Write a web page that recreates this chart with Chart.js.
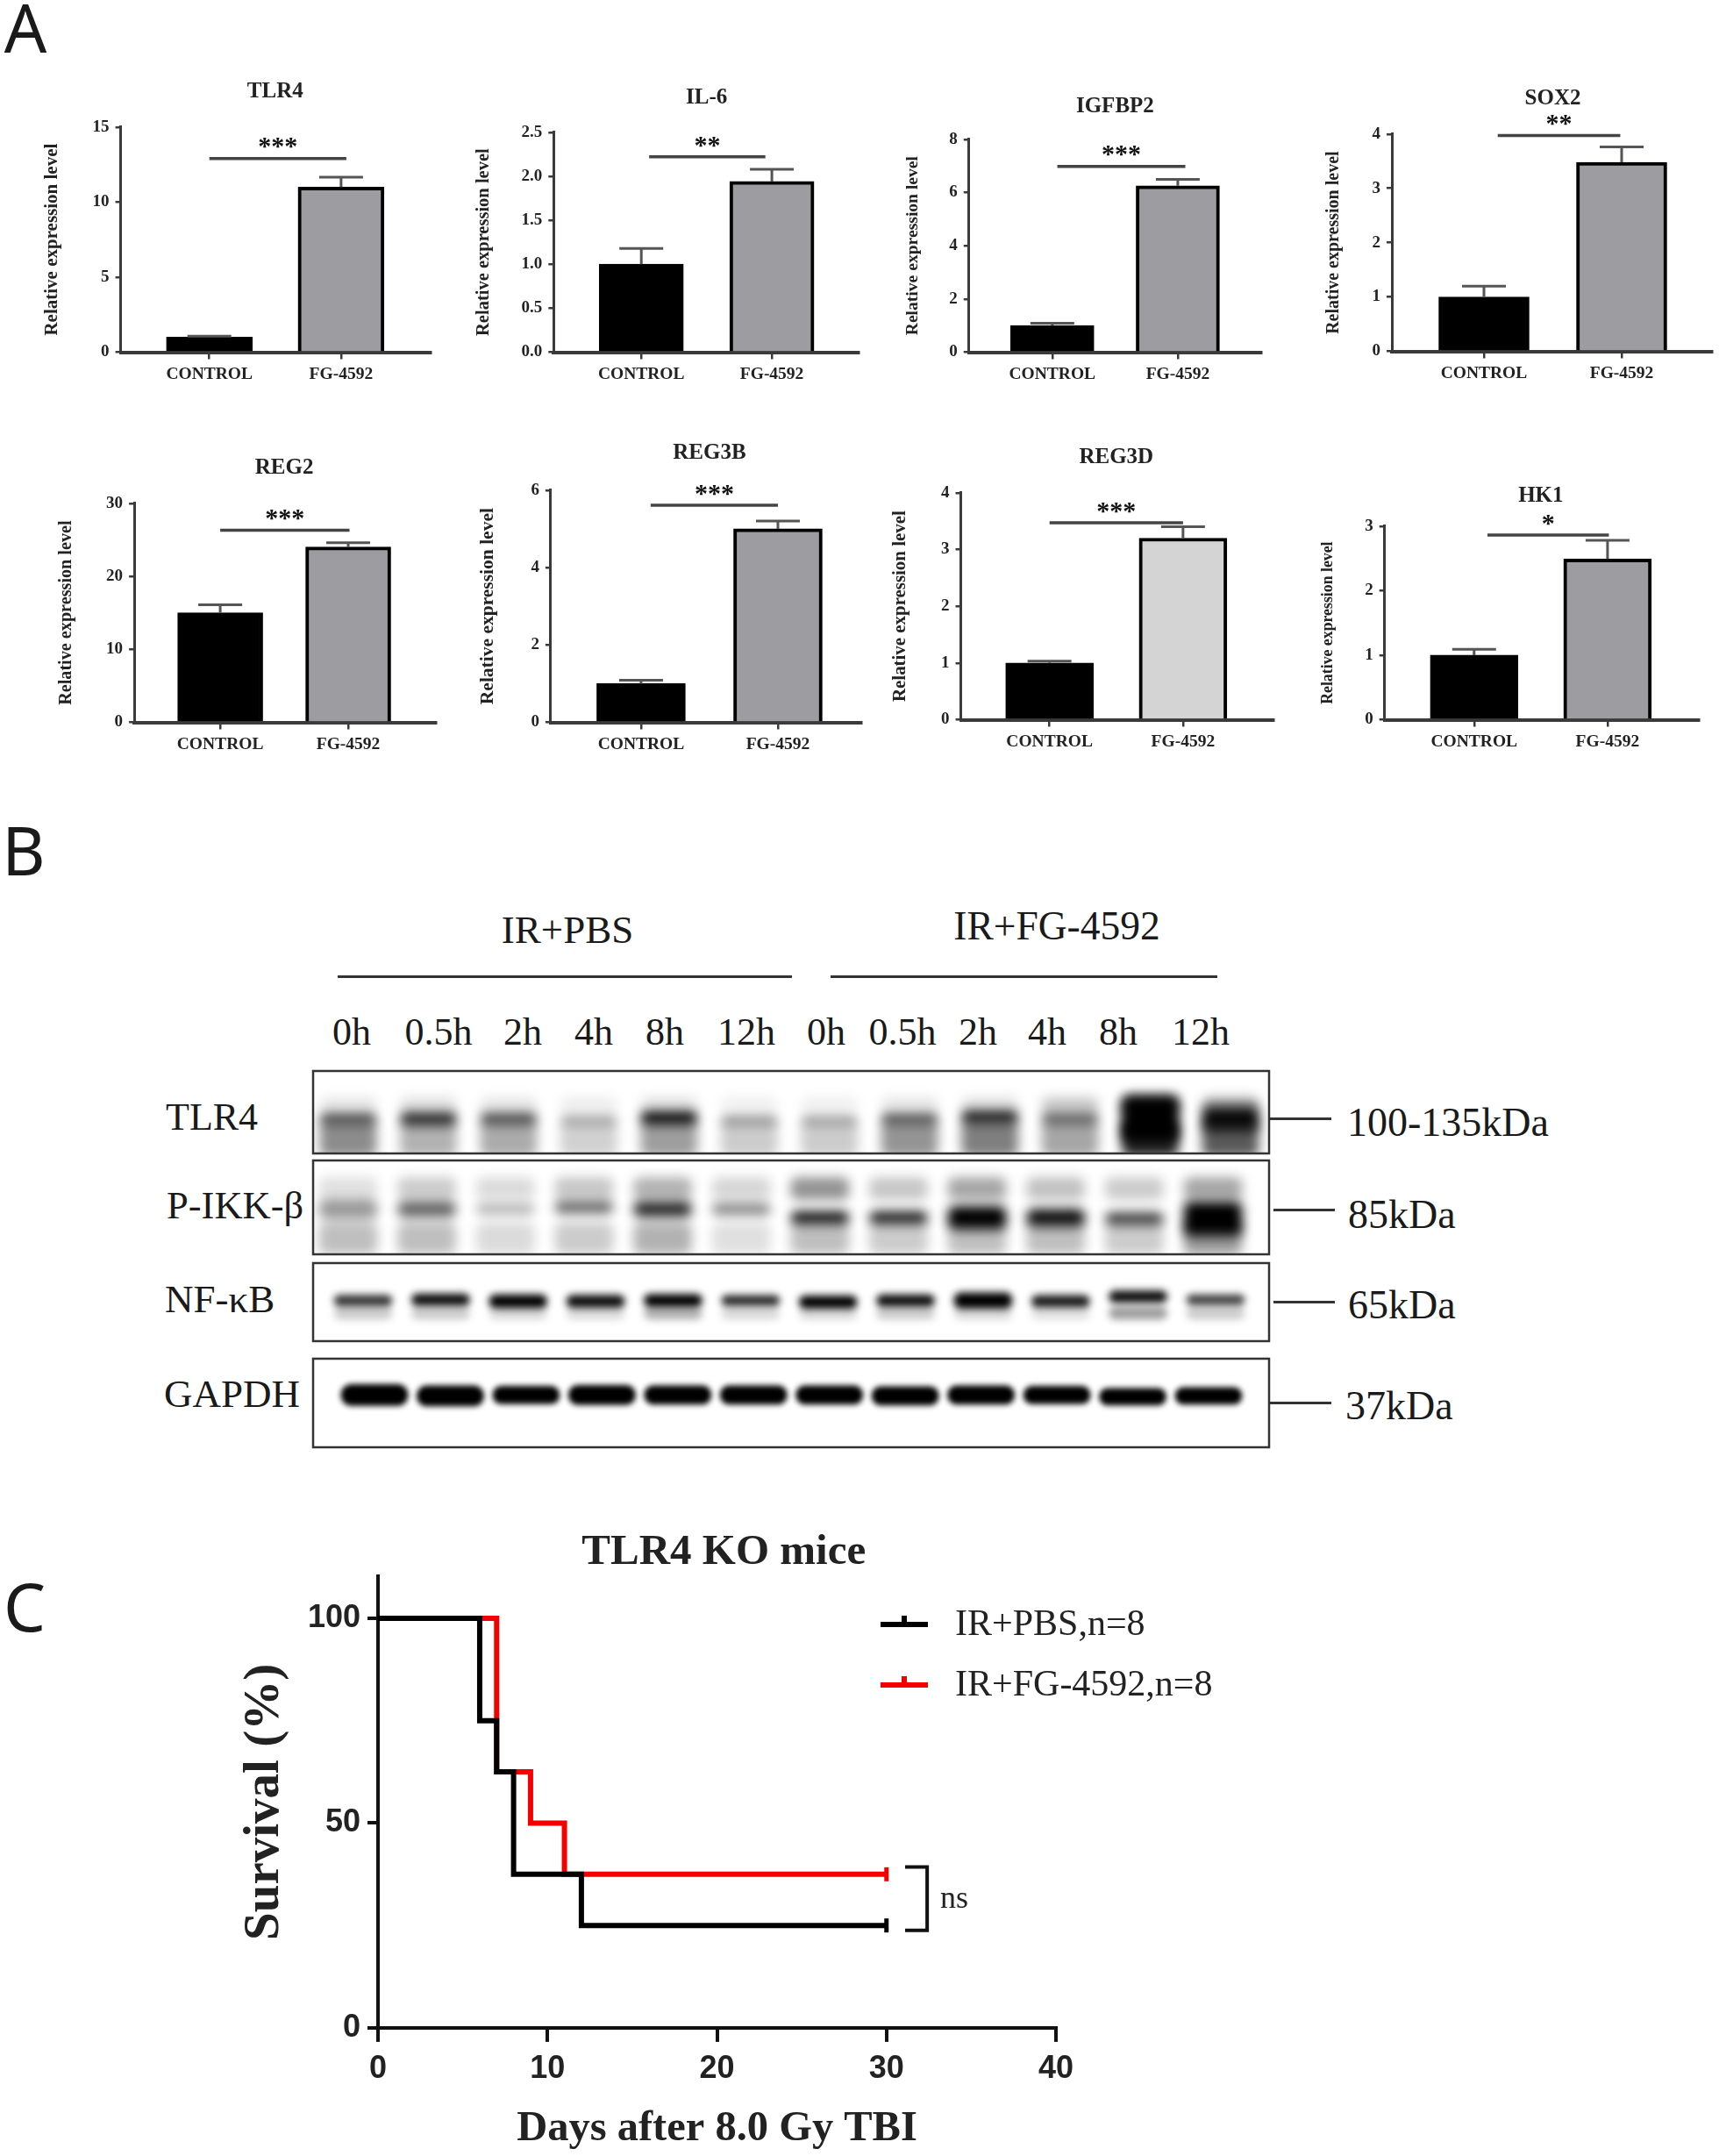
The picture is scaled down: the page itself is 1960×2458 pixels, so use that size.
<!DOCTYPE html>
<html>
<head>
<meta charset="utf-8">
<title>TLR4 figure</title>
<script src="https://cdn.jsdelivr.net/npm/chart.js@4"></script>
<style>
html, body { margin: 0; background: #fff; }
body { position: relative; width: 1960px; height: 2458px; overflow: hidden; font-family: "Liberation Serif", serif; color: #1a1a1a; }
canvas { position: absolute; }
.label { position: absolute; white-space: nowrap; transform: translate(-50%, -50%); }
.label.start { transform: translate(0, -50%); }
.rule { position: absolute; background: #333; }
</style>
</head>
<body>
<script>
// panel A
const genes = ['TLR4', 'IL-6', 'IGFBP2', 'SOX2', 'REG2', 'REG3B', 'REG3D', 'HK1']
const groups = ['CONTROL', 'FG-4592']
const controlMeans = [1, 1, 1, 1, 15, 1, 1, 1]
const controlErrors = [0.06, 0.18, 0.09, 0.2, 1.1, 0.09, 0.03, 0.09]
const fgMeans = [11, 1.94, 6.25, 3.48, 24, 5, 3.2, 2.49]
const fgErrors = [0.65, 0.14, 0.24, 0.28, 0.6, 0.2, 0.2, 0.29]
const axisMax = [15, 2.5, 8, 4, 30, 6, 4, 3]
const axisStep = [5, 0.5, 2, 1, 10, 2, 1, 1]
const sigLevels = [12.9, 2.22, 6.98, 3.97, 26.3, 5.61, 3.47, 2.86]
const sigStars = ['***', '**', '***', '**', '***', '***', '***', '*']
const sigFrom = [1, 1.06, 1.04, 1.1, 1, 1.07, 1, 1.1]
const sigTo = [2.04, 1.95, 2.06, 1.99, 2.01, 2, 2, 2.01]

// panel B, bands on a 0-100 scale from the top of each membrane, shade 0-1
const laneLabels = ['0h', '0.5h', '2h', '4h', '8h', '12h', '0h', '0.5h', '2h', '4h', '8h', '12h']
const tlr4Shade = [0.7, 0.85, 0.7, 0.35, 1, 0.42, 0.36, 0.7, 0.9, 0.6, 1, 0.95]
const tlr4Centre = [58, 58, 58, 60, 57, 60, 60, 58, 56, 58, 58, 58]
const tlr4Thick = [12, 15, 13, 9, 15, 9, 9, 11, 15, 12, 56, 28]
const tlr4Above = [0.1, 0.12, 0.1, 0.07, 0.12, 0.06, 0.06, 0.1, 0.12, 0.22, 0.5, 0.35]
const tlr4Below = [0.45, 0.3, 0.33, 0.18, 0.38, 0.2, 0.2, 0.42, 0.5, 0.35, 0.85, 0.65]
const ikkShade = [0.4, 0.62, 0.36, 0.62, 0.85, 0.52, 0.95, 0.9, 1, 0.95, 0.75, 1]
const ikkCentre = [52, 52, 52, 50, 52, 52, 61, 61, 61, 61, 62, 62]
const ikkThick = [20, 16, 9, 12, 16, 11, 13, 13, 24, 18, 13, 36]
const ikkAbove = [0.12, 0.2, 0.14, 0.22, 0.3, 0.16, 0.42, 0.22, 0.35, 0.24, 0.2, 0.35]
const ikkBelow = [0.25, 0.25, 0.14, 0.2, 0.3, 0.12, 0.25, 0.2, 0.25, 0.25, 0.2, 0.4]
const nfkbShade = [0.8, 0.95, 1, 0.95, 1, 0.85, 1, 0.95, 1, 0.9, 0.95, 0.75]
const nfkbCentre = [48, 47, 49, 49, 48, 48, 50, 48, 48, 49, 43, 47]
const nfkbThick = [14, 15, 17, 16, 16, 13, 16, 15, 20, 15, 15, 13]
const nfkbBelow = [0.2, 0.2, 0.15, 0.14, 0.3, 0.15, 0.15, 0.2, 0.15, 0.12, 0.38, 0.2]
const gapdhShade = [1, 1, 1, 1, 1, 1, 1, 1, 1, 1, 1, 1]
const gapdhCentre = [41, 42, 41, 41, 41, 41, 41, 42, 41, 41, 43, 42]
const gapdhThick = [24, 23, 20, 22, 21, 21, 21, 21, 21, 20, 19, 19]

// panel C
const survivalPbs = [{ x: 0, y: 100 }, { x: 6, y: 75 }, { x: 7, y: 62.5 }, { x: 8, y: 37.5 }, { x: 12, y: 25 }, { x: 30, y: 25 }]
const survivalFg = [{ x: 0, y: 100 }, { x: 7, y: 62.5 }, { x: 9, y: 50 }, { x: 11, y: 37.5 }, { x: 30, y: 37.5 }]
const survivalYTicks = [0, 50, 100]
const survivalXTicks = [0, 10, 20, 30, 40]

// page layout
const panelBoxes = [
    { axis: 138, top: 144, zero: 400, end: 491, first: 239, gap: 150, barW: 98, labelX: 60, titleY: 105, labelSize: 21 },
    { axis: 631, top: 150, zero: 400, end: 979, first: 731, gap: 149, barW: 96, labelX: 551, titleY: 112, labelSize: 20.5 },
    { axis: 1105, top: 158, zero: 400, end: 1438, first: 1200, gap: 143, barW: 95, labelX: 1041, titleY: 122, labelSize: 19.6 },
    { axis: 1587, top: 152, zero: 399, end: 1952, first: 1692, gap: 157, barW: 103, labelX: 1521, titleY: 113, labelSize: 20 },
    { axis: 153, top: 573, zero: 822, end: 497, first: 251, gap: 146, barW: 97, labelX: 76, titleY: 534, labelSize: 20.2 },
    { axis: 628, top: 558, zero: 822, end: 982, first: 731, gap: 156, barW: 101, labelX: 557, titleY: 517, labelSize: 21.5 },
    { axis: 1096, top: 561, zero: 819, end: 1452, first: 1197, gap: 152, barW: 100, labelX: 1027, titleY: 522, labelSize: 20.9 },
    { axis: 1579, top: 599, zero: 819, end: 1937, first: 1681, gap: 152, barW: 100, labelX: 1515, titleY: 566, labelSize: 17.8 }
]
const serif = 'Liberation Serif'
const sans = 'Liberation Sans'
const inkColor = '#222'
const axisColor = '#3a3a3a'

function addCanvas(left, top, right, bottom) {
    const canvas = document.createElement('canvas')
    canvas.width = Math.round(right - left)
    canvas.height = Math.round(bottom - top)
    canvas.style.left = left + 'px'
    canvas.style.top = top + 'px'
    document.body.appendChild(canvas)
    return canvas
}

function addLabel(text, x, y, size, className, family, weight) {
    const el = document.createElement('div')
    el.className = className ? 'label ' + className : 'label'
    el.textContent = text
    el.style.left = x + 'px'
    el.style.top = y + 'px'
    el.style.fontSize = size + 'px'
    if (family) el.style.fontFamily = family
    if (weight) el.style.fontWeight = weight
    document.body.appendChild(el)
}

function addRule(x0, x1, y, height) {
    const el = document.createElement('div')
    el.className = 'rule'
    el.style.left = x0 + 'px'
    el.style.width = (x1 - x0) + 'px'
    el.style.top = (y - height / 2) + 'px'
    el.style.height = height + 'px'
    document.body.appendChild(el)
}

// moves the built-in title so it centres on a value of the x scale
function titleAt(value) {
    return {
        id: 'titleAt',
        afterLayout(chart) {
            const mid = chart.scales.x.getPixelForValue(value)
            chart.titleBlock.left = mid - 300
            chart.titleBlock.right = mid + 300
        }
    }
}

function panelMarks(i) {
    return {
        id: 'panelMarks',
        afterDatasetsDraw(chart) {
            const { ctx, scales: { x, y } } = chart
            ctx.save()
            ctx.strokeStyle = '#555'
            ctx.lineWidth = 3
            const tops = [controlMeans[i] + controlErrors[i], fgMeans[i] + fgErrors[i]]
            const bases = [controlMeans[i], fgMeans[i]]
            tops.forEach((value, k) => {
                const px = x.getPixelForValue(k + 1)
                ctx.beginPath()
                ctx.moveTo(px, y.getPixelForValue(bases[k]))
                ctx.lineTo(px, y.getPixelForValue(value))
                ctx.moveTo(px - 25, y.getPixelForValue(value))
                ctx.lineTo(px + 25, y.getPixelForValue(value))
                ctx.stroke()
            })
            const sigY = y.getPixelForValue(sigLevels[i])
            ctx.strokeStyle = '#444'
            ctx.lineWidth = 3.5
            ctx.beginPath()
            ctx.moveTo(x.getPixelForValue(sigFrom[i]), sigY)
            ctx.lineTo(x.getPixelForValue(sigTo[i]), sigY)
            ctx.stroke()
            ctx.fillStyle = '#111'
            ctx.font = 'bold 30px "' + serif + '"'
            ctx.textAlign = 'center'
            ctx.textBaseline = 'middle'
            ctx.fillText(sigStars[i], x.getPixelForValue((sigFrom[i] + sigTo[i]) / 2), sigY - 12)
            ctx.restore()
        }
    }
}

function drawBarPanel(i) {
    const b = panelBoxes[i]
    const titleHeight = 25 * 1.1
    const left = b.labelX - b.labelSize * 0.6
    const top = b.titleY - titleHeight / 2
    const bottom = b.zero + 46
    const right = b.end + 4
    const canvas = addCanvas(left, top, right, bottom)
    canvas.style.filter = 'blur(0.7px)'
    const lightFill = genes[i] === 'REG3D'
    new Chart(canvas, {
        type: 'bar',
        data: {
            datasets: [{
                data: [{ x: 1, y: controlMeans[i] }, { x: 2, y: fgMeans[i] }],
                backgroundColor: ['#000', lightFill ? '#d4d4d4' : '#9d9da1'],
                borderColor: '#000',
                borderWidth: 4,
                borderSkipped: 'bottom',
                barThickness: b.barW
            }]
        },
        options: {
            responsive: false,
            animation: false,
            layout: { padding: { right: right - b.end } },
            plugins: {
                legend: { display: false },
                tooltip: { enabled: false },
                title: {
                    display: true,
                    text: genes[i],
                    color: inkColor,
                    font: { family: serif, weight: 'bold', size: 25, lineHeight: 1.1 },
                    padding: { top: 0, bottom: b.top - top - titleHeight + 1 }
                }
            },
            scales: {
                x: {
                    type: 'linear',
                    offset: false,
                    min: 1 - (b.first - b.axis) / b.gap,
                    max: 1 + (b.end - b.first) / b.gap,
                    afterBuildTicks: s => { s.ticks = [{ value: 1 }, { value: 2 }] },
                    afterFit: s => { s.height = bottom - b.zero - 1.5 },
                    border: { color: axisColor, width: 4 },
                    grid: { offset: false, drawOnChartArea: false, color: axisColor, tickLength: 8, lineWidth: 2.5 },
                    ticks: {
                        autoSkip: false, maxRotation: 0, padding: 6, color: inkColor,
                        font: { family: serif, weight: 'bold', size: 19.5 },
                        callback: v => groups[v - 1]
                    }
                },
                y: {
                    min: 0,
                    max: axisMax[i],
                    afterFit: s => { s.width = b.axis - left },
                    border: { color: axisColor, width: 3 },
                    grid: { drawOnChartArea: false, color: axisColor, tickLength: 6, lineWidth: 2.5 },
                    title: {
                        display: true,
                        text: 'Relative expression level',
                        color: inkColor,
                        padding: 0,
                        font: { family: serif, weight: 'bold', size: b.labelSize, lineHeight: 1.2 }
                    },
                    ticks: {
                        stepSize: axisStep[i], padding: 7, color: inkColor,
                        font: { family: serif, weight: 'bold', size: 19 },
                        callback: v => (axisStep[i] < 1 ? v.toFixed(1) : v)
                    }
                }
            }
        },
        plugins: [titleAt(1.5), panelMarks(i)]
    })
}

const blotSmear = {
    id: 'blotSmear',
    beforeDatasetsDraw(chart) {
        chart.ctx.save()
        chart.ctx.filter = 'blur(' + chart.options.plugins.blotSmear.radius + 'px)'
    },
    afterDatasetsDraw(chart) {
        chart.ctx.restore()
    },
    afterDraw(chart) {
        const { ctx, chartArea: a } = chart
        ctx.save()
        ctx.strokeStyle = '#333'
        ctx.lineWidth = 2.5
        ctx.strokeRect(a.left, a.top, a.right - a.left, a.bottom - a.top)
        ctx.restore()
    }
}

function bandRanges(centre, thick) {
    return centre.map((c, k) => [c - thick[k] / 2, c + thick[k] / 2])
}

function drawMembrane(box, layers, radius) {
    const canvas = addCanvas(box.left - 2, box.top - 2, box.right + 2, box.bottom + 2)
    const laneGap = (box.lastLane - box.firstLane) / 11
    new Chart(canvas, {
        type: 'bar',
        data: {
            datasets: layers.map(layer => ({
                grouped: false,
                order: layer.order,
                data: layer.ranges.map((r, k) => ({ x: k + 1, y: r })),
                backgroundColor: layer.shades.map(s => 'rgba(0,0,0,' + s + ')'),
                borderRadius: box.corner,
                borderSkipped: false,
                barThickness: box.bandW
            }))
        },
        options: {
            responsive: false,
            animation: false,
            layout: { padding: 2 },
            plugins: { legend: { display: false }, tooltip: { enabled: false }, blotSmear: { radius } },
            scales: {
                x: {
                    display: false,
                    type: 'linear',
                    offset: false,
                    min: 1 - (box.firstLane - box.left) / laneGap,
                    max: 12 + (box.right - box.lastLane) / laneGap
                },
                y: { display: false, min: 0, max: 100, reverse: true }
            }
        },
        plugins: [blotSmear]
    })
}

function fixedRange(count, from, to) {
    return Array.from({ length: count }, () => [from, to])
}

const survivalExtras = {
    id: 'survivalExtras',
    afterDatasetsDraw(chart) {
        const { ctx, scales: { x, y } } = chart
        ctx.save()
        // legend rows
        ctx.textAlign = 'left'
        ctx.textBaseline = 'middle'
        ctx.font = '42px "' + serif + '"'
        chart.data.datasets.forEach((ds, k) => {
            const rowY = 1852 + k * 69 - chart.canvas.offsetTop
            const lineX = 1004 - chart.canvas.offsetLeft
            ctx.strokeStyle = ds.borderColor
            ctx.lineWidth = 6
            ctx.beginPath()
            ctx.moveTo(lineX, rowY)
            ctx.lineTo(lineX + 54, rowY)
            ctx.moveTo(lineX + 27, rowY)
            ctx.lineTo(lineX + 27, rowY - 10)
            ctx.stroke()
            ctx.fillStyle = inkColor
            ctx.fillText(ds.label, 1089 - chart.canvas.offsetLeft, rowY + 1)
        })
        // ns bracket
        ctx.strokeStyle = '#111'
        ctx.lineWidth = 4
        ctx.beginPath()
        ctx.moveTo(x.getPixelForValue(31.1), y.getPixelForValue(39.3))
        ctx.lineTo(x.getPixelForValue(32.4), y.getPixelForValue(39.3))
        ctx.lineTo(x.getPixelForValue(32.4), y.getPixelForValue(23.8))
        ctx.lineTo(x.getPixelForValue(31.1), y.getPixelForValue(23.8))
        ctx.stroke()
        ctx.fillStyle = inkColor
        ctx.textAlign = 'center'
        ctx.font = '36px "' + serif + '"'
        ctx.fillText('ns', x.getPixelForValue(34), y.getPixelForValue(31.4))
        ctx.restore()
    }
}

function drawSurvival() {
    const left = 248
    const top = 1770 - 49 * 1.1 / 2
    const right = 1400
    const bottom = 2428 + 48.5 * 0.6
    const plot = { axis: 431, end: 1204, top: 1797, zero: 2312 }
    const canvas = addCanvas(left, top, right, bottom)
    canvas.style.filter = 'blur(0.5px)'
    const endTick = ctx => (ctx.dataIndex === ctx.dataset.data.length - 1 ? 8 : 0)
    new Chart(canvas, {
        type: 'scatter',
        data: {
            datasets: [
                { label: 'IR+PBS,n=8', data: survivalPbs, borderColor: '#000', pointBorderColor: '#000' },
                { label: 'IR+FG-4592,n=8', data: survivalFg, borderColor: '#f40000', pointBorderColor: '#f40000' }
            ].map(ds => Object.assign(ds, {
                showLine: true,
                stepped: 'before',
                borderWidth: 6,
                borderJoinStyle: 'miter',
                pointStyle: 'line',
                rotation: 90,
                pointBorderWidth: 5,
                pointRadius: endTick
            }))
        },
        options: {
            responsive: false,
            animation: false,
            layout: { padding: { right: right - plot.end } },
            plugins: {
                legend: { display: false },
                tooltip: { enabled: false },
                title: {
                    display: true,
                    text: 'TLR4 KO mice',
                    color: inkColor,
                    font: { family: serif, weight: 'bold', size: 49, lineHeight: 1.1 },
                    padding: { top: 0, bottom: plot.top - top - 49 * 1.1 }
                }
            },
            scales: {
                x: {
                    type: 'linear',
                    min: 0,
                    max: 40,
                    afterBuildTicks: s => { s.ticks = survivalXTicks.map(value => ({ value })) },
                    afterFit: s => { s.height = bottom - plot.zero },
                    border: { color: '#111', width: 4 },
                    grid: { drawOnChartArea: false, color: '#111', tickLength: 16, lineWidth: 4 },
                    title: {
                        display: true,
                        text: 'Days after 8.0 Gy TBI',
                        color: inkColor,
                        padding: 0,
                        font: { family: serif, weight: 'bold', size: 48.5, lineHeight: 1.2 }
                    },
                    ticks: { padding: 10, color: inkColor, maxRotation: 0, font: { family: sans, weight: 'bold', size: 36 } }
                },
                y: {
                    min: 0,
                    max: 110.3,
                    afterBuildTicks: s => { s.ticks = survivalYTicks.map(value => ({ value })) },
                    afterFit: s => { s.width = plot.axis - left },
                    border: { color: '#111', width: 4 },
                    grid: { drawOnChartArea: false, color: '#111', tickLength: 12, lineWidth: 4 },
                    title: {
                        display: true,
                        text: 'Survival (%)',
                        color: inkColor,
                        padding: { top: 20, bottom: 0 },
                        font: { family: serif, weight: 'bold', size: 57, lineHeight: 1.2 }
                    },
                    ticks: { padding: 8, color: inkColor, font: { family: sans, weight: 'bold', size: 36 } }
                }
            }
        },
        plugins: [titleAt(20.4), survivalExtras]
    })
}

genes.forEach((g, i) => drawBarPanel(i))

drawMembrane({ left: 357, right: 1447, top: 1221, bottom: 1315, firstLane: 397, lastLane: 1403, bandW: 64, corner: 8 }, [
    { order: 2, ranges: fixedRange(12, 32, 54), shades: tlr4Above },
    { order: 1, ranges: fixedRange(12, 60, 104), shades: tlr4Below },
    { order: 0, ranges: bandRanges(tlr4Centre, tlr4Thick), shades: tlr4Shade }
], 6.5)
drawMembrane({ left: 357, right: 1447, top: 1323, bottom: 1430, firstLane: 397, lastLane: 1383, bandW: 66, corner: 8 }, [
    { order: 2, ranges: fixedRange(12, 18, 42), shades: ikkAbove },
    { order: 1, ranges: fixedRange(12, 66, 100), shades: ikkBelow },
    { order: 0, ranges: bandRanges(ikkCentre, ikkThick), shades: ikkShade }
], 6.5)
drawMembrane({ left: 357, right: 1447, top: 1440, bottom: 1529, firstLane: 414, lastLane: 1386, bandW: 66, corner: 8 }, [
    { order: 1, ranges: fixedRange(12, 56, 72), shades: nfkbBelow },
    { order: 0, ranges: bandRanges(nfkbCentre, nfkbThick), shades: nfkbShade }
], 4)
drawMembrane({ left: 357, right: 1447, top: 1549, bottom: 1650, firstLane: 427, lastLane: 1378, bandW: 76, corner: 12 }, [
    { order: 0, ranges: bandRanges(gapdhCentre, gapdhThick), shades: gapdhShade }
], 3)

drawSurvival()

// panel letters
addLabel('A', 29, 30, 76, '', 'Noto Sans')
addLabel('B', 27, 968, 76, '', 'Noto Sans')
addLabel('C', 28, 1830, 76, '', 'Noto Sans')

// blot annotation
const laneLabelX = [401, 500, 596, 677, 758, 851, 942, 1029, 1115, 1194, 1275, 1369]
laneLabels.forEach((text, k) => addLabel(text, laneLabelX[k], 1176, 44))
addLabel('IR+PBS', 647, 1060, 45)
addLabel('IR+FG-4592', 1205, 1055, 45.5)
addRule(385, 903, 1113, 3)
addRule(947, 1388, 1113, 3)
addLabel('TLR4', 189, 1273, 44, 'start')
addLabel('P-IKK-β', 190, 1374, 44.5, 'start')
addLabel('NF-κB', 188, 1481, 45, 'start')
addLabel('GAPDH', 187, 1589, 45, 'start')
addLabel('100-135kDa', 1536, 1279, 46, 'start')
addLabel('85kDa', 1537, 1384, 46, 'start')
addLabel('65kDa', 1537, 1487, 46, 'start')
addLabel('37kDa', 1534, 1602, 46, 'start')
addRule(1447, 1518, 1275, 3)
addRule(1452, 1522, 1379, 3)
addRule(1452, 1522, 1484, 3)
addRule(1447, 1518, 1599, 3)
</script>
</body>
</html>
